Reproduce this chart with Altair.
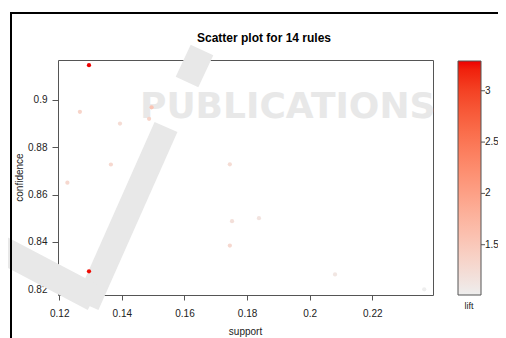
import altair as alt
import pandas as pd

# ---- data ----
support = [0.1295, 0.1295, 0.1266, 0.1394, 0.1495, 0.1487, 0.1365,
           0.1226, 0.1745, 0.1752, 0.1745, 0.1838, 0.2081, 0.2366]
confidence = [0.9147, 0.8275, 0.8950, 0.8900, 0.8969, 0.8920, 0.8727,
              0.8650, 0.8728, 0.8487, 0.8384, 0.8500, 0.8262, 0.8199]
lift = [3.29, 3.27, 1.35, 1.25, 1.55, 1.35, 1.30,
        1.30, 1.25, 1.20, 1.30, 1.15, 1.12, 1.01]

x_ticks = [0.12, 0.14, 0.16, 0.18, 0.20, 0.22]
y_ticks = [0.82, 0.84, 0.86, 0.88, 0.90]
lift_ticks = [1.5, 2, 2.5, 3]
lift_domain = [1.01, 3.29]

title_text = "Scatter plot for 14 rules"

df = pd.DataFrame({"support": support, "confidence": confidence, "lift": lift})
ticks_df = pd.DataFrame({"tick": lift_ticks})

FONT = "Liberation Sans"
WM = "#e8e8e8"
one = alt.Data(values=[{}])

# ---- watermark (background decoration) ----
band_a = alt.Chart(one).mark_rule(color=WM, strokeWidth=25, strokeCap="butt").encode(
    x=alt.value(29), y=alt.value(245), x2=alt.value(108), y2=alt.value(67))
band_b = alt.Chart(one).mark_rule(color=WM, strokeWidth=25, strokeCap="butt").encode(
    x=alt.value(144), y=alt.value(-10), x2=alt.value(129), y2=alt.value(22))
band_c = alt.Chart(one).mark_rule(color=WM, strokeWidth=27, strokeCap="butt").encode(
    x=alt.value(-63), y=alt.value(186), x2=alt.value(36), y2=alt.value(238))
wm_mid = alt.Chart(one).mark_text(font="DejaVu Sans", fontWeight="bold", fontSize=36,
                                  color=WM, align="left", baseline="alphabetic").encode(
    x=alt.value(82), y=alt.value(58), text=alt.value("PUBLICATIONS"))

# ---- outer black frame of the figure ----
frame = alt.Chart(one).mark_rect(fillOpacity=0, stroke="black", strokeWidth=2).encode(
    x=alt.value(-47), y=alt.value(-47), x2=alt.value(520), y2=alt.value(320))

# ---- title ----
title = alt.Chart(one).mark_text(font=FONT, fontWeight="bold", fontSize=12,
                                 color="#000000", baseline="middle", align="center").encode(
    x=alt.value(206), y=alt.value(-22), text=alt.value(title_text))

# ---- points ----
points = alt.Chart(df).mark_circle(size=18, opacity=1).encode(
    x=alt.X("support:Q",
            scale=alt.Scale(domain=[0.1196, 0.2394], nice=False, zero=False),
            axis=alt.Axis(values=x_ticks, format=".2~f", title="support",
                          titleX=187, titleY=36, titleBaseline="middle",
                          titleFontWeight="normal", titleFontSize=10, titleFont=FONT,
                          titleColor="#222222",
                          tickSize=5, labelPadding=8)),
    y=alt.Y("confidence:Q",
            scale=alt.Scale(domain=[0.8175, 0.9169], nice=False, zero=False),
            axis=alt.Axis(values=y_ticks, format=".2~f", title="confidence",
                          titleX=-39, titleY=117, titleAngle=270,
                          titleBaseline="middle", titleAlign="center",
                          titleFontWeight="normal", titleFontSize=10, titleFont=FONT,
                          titleColor="#222222",
                          tickSize=6, labelPadding=5)),
    color=alt.Color("lift:Q",
                    scale=alt.Scale(domain=lift_domain, range=["#EEEEEE", "#EE0000"],
                                    interpolate="hcl"),
                    legend=alt.Legend(orient="none", legendX=400, legendY=1,
                                      direction="vertical", gradientLength=234,
                                      gradientThickness=23, title=None,
                                      values=lift_ticks, format="~g",
                                      labelFont=FONT, labelFontSize=10,
                                      labelColor="#222222", labelOffset=4,
                                      gradientStrokeColor="#555555",
                                      gradientStrokeWidth=1, padding=0)),
)

# ---- small tick marks beside the colour bar ----
legend_ticks = alt.Chart(ticks_df).mark_rule(color="#555555", strokeWidth=1).encode(
    y=alt.Y("tick:Q", scale=alt.Scale(domain=lift_domain, range=[235, 1]), axis=None),
    x=alt.value(423), x2=alt.value(427),
)

lift_title = alt.Chart(one).mark_text(font=FONT, fontSize=9, color="#222222",
                                      baseline="middle", align="center").encode(
    x=alt.value(411), y=alt.value(246), text=alt.value("lift"))

chart = alt.layer(band_a, band_b, band_c, wm_mid, frame, title,
                  points, legend_ticks, lift_title).resolve_scale(
    y="independent"
).properties(
    width=375, height=235,
    autosize=alt.AutoSizeParams(type="none"),
    padding={"left": 50, "top": 52, "right": 65, "bottom": 43},
    background="white",
).configure_view(stroke="#555555", strokeWidth=1).configure_axis(
    labelFont=FONT, labelFontSize=10, labelColor="#222222",
    tickColor="#555555", domain=False, grid=False,
)

chart.save("out.html", embed_options={"renderer": "svg", "actions": False})
